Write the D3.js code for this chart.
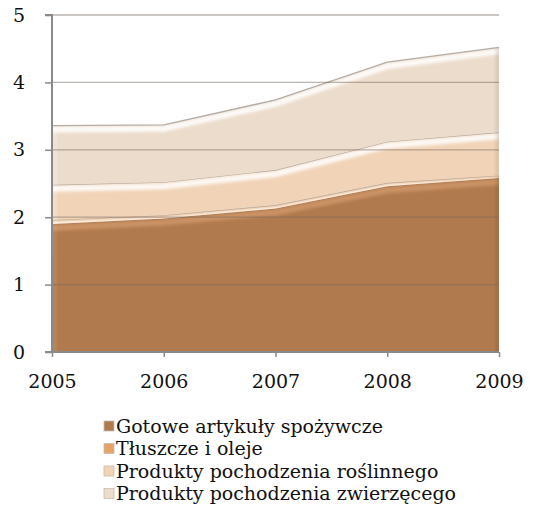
<!DOCTYPE html>
<html>
<head>
<meta charset="utf-8">
<script src="https://cdn.jsdelivr.net/npm/d3@7"></script>
<style>
  body { margin: 0; background: #fff; }
  svg { display: block; font-family: "DejaVu Serif", serif; }
</style>
</head>
<body>
<div id="vis"></div>
<script>
// values (stacked, bottom to top)
const years = [2005, 2006, 2007, 2008, 2009];
const gotowe = [1.90, 1.98, 2.13, 2.46, 2.58];
const tluszcze = [0.06, 0.05, 0.05, 0.05, 0.04];
const roslinne = [0.52, 0.49, 0.52, 0.61, 0.64];
const zwierzece = [0.88, 0.85, 1.04, 1.18, 1.26];
const seriesNames = [
  "Gotowe artykuły spożywcze",
  "Tłuszcze i oleje",
  "Produkty pochodzenia roślinnego",
  "Produkty pochodzenia zwierzęcego"
];
const yTicks = [0, 1, 2, 3, 4, 5];

const width = 549, height = 515;
const colors = ["#b07a4e", "#e4a468", "#f1d4b8", "#ecdccb"];

const keys = ["g", "t", "r", "z"];
const rows = years.map((y, i) => ({year: y, g: gotowe[i], t: tluszcze[i], r: roslinne[i], z: zwierzece[i]}));
const stacked = d3.stack().keys(keys)(rows);

const x = d3.scaleLinear().domain([2005, 2009]).range([52, 499]);
const y = d3.scaleLinear().domain([0, 5]).range([352, 15]);

const svg = d3.select("#vis").append("svg")
    .attr("width", width)
    .attr("height", height);

const defs = svg.append("defs");
defs.append("filter").attr("id", "blur")
  .append("feGaussianBlur").attr("stdDeviation", 1.5);

const area = d3.area()
    .x(d => x(d.data.year))
    .y0(d => y(d[0]))
    .y1(d => y(d[1]));
const topLine = d3.line()
    .x(d => x(d.data.year))
    .y(d => y(d[1]));

stacked.forEach((s, i) => {
  defs.append("clipPath").attr("id", "clip" + i)
    .append("path").attr("d", area(s));
});

const layers = svg.append("g");
stacked.forEach((s, i) => {
  layers.append("path")
      .attr("d", area(s))
      .attr("fill", colors[i]);
  // bevel highlight just under the top edge
  const g = layers.append("g").attr("clip-path", `url(#clip${i})`);
  g.append("path")
      .attr("d", topLine(s))
      .attr("transform", "translate(0,4)")
      .attr("fill", "none")
      .attr("stroke", i === 0 ? "#e8b080" : "#fff")
      .attr("stroke-opacity", i === 0 ? 0.45 : 0.85)
      .attr("stroke-width", 6)
      .attr("filter", "url(#blur)");
  // left bevel
  g.append("rect")
      .attr("x", x(2005))
      .attr("y", 0)
      .attr("width", 5)
      .attr("height", height)
      .attr("fill", "#fff")
      .attr("opacity", i === 0 ? 0.08 : 0.25)
      .attr("filter", "url(#blur)");
  // right shadow
  g.append("rect")
      .attr("x", x(2009) - 4)
      .attr("y", 0)
      .attr("width", 6)
      .attr("height", height)
      .attr("fill", "#000")
      .attr("opacity", 0.07)
      .attr("filter", "url(#blur)");
  layers.append("path")
      .attr("d", topLine(s))
      .attr("fill", "none")
      .attr("stroke", i === 0 ? "#a88060" : "#b4aca6")
      .attr("stroke-width", 1.3);
});

// gridlines on top of the areas
svg.append("g")
  .selectAll("line")
  .data(yTicks.filter(d => d > 0))
  .join("line")
    .attr("x1", x(2005))
    .attr("x2", x(2009))
    .attr("y1", d => y(d))
    .attr("y2", d => y(d))
    .attr("stroke", "#7a6a5e")
    .attr("stroke-opacity", 0.5)
    .attr("stroke-width", 1.3);

// axes
const yAxis = svg.append("g")
    .attr("transform", `translate(${x(2005)},0)`)
    .call(d3.axisLeft(y).tickValues(yTicks).tickSize(7).tickPadding(20).tickFormat(d3.format("d")));
const xAxis = svg.append("g")
    .attr("transform", `translate(0,${y(0)})`)
    .call(d3.axisBottom(x).tickValues(years).tickSize(5).tickPadding(18).tickFormat(d3.format("d")));

[yAxis, xAxis].forEach(a => {
  a.select(".domain").attr("stroke", "#8a8a8a").attr("stroke-width", 2);
  a.selectAll(".tick line").attr("stroke", "#8a8a8a").attr("stroke-width", 1.5);
  a.selectAll("text")
      .attr("fill", "#111")
      .style("font-family", "'DejaVu Serif', serif")
      .style("font-size", "19px");
});
yAxis.select(".domain").attr("d", `M-7,${y(5)}H0V${y(0)}`);
xAxis.select(".domain").attr("d", `M${x(2005) - 7},0H${x(2009)}`);

// legend
const legend = svg.append("g")
  .selectAll("g")
  .data(seriesNames)
  .join("g")
    .attr("transform", (d, i) => `translate(104,${426 + i * 22.5})`);
legend.append("rect")
    .attr("x", 0)
    .attr("y", -5)
    .attr("width", 10)
    .attr("height", 10)
    .attr("fill", (d, i) => colors[i])
    .attr("stroke", "#c8bcb0")
    .attr("stroke-width", 0.8);
legend.append("text")
    .attr("x", 12)
    .attr("dy", "0.35em")
    .attr("fill", "#111")
    .style("font-size", "19px")
    .text(d => d);
</script>
</body>
</html>
